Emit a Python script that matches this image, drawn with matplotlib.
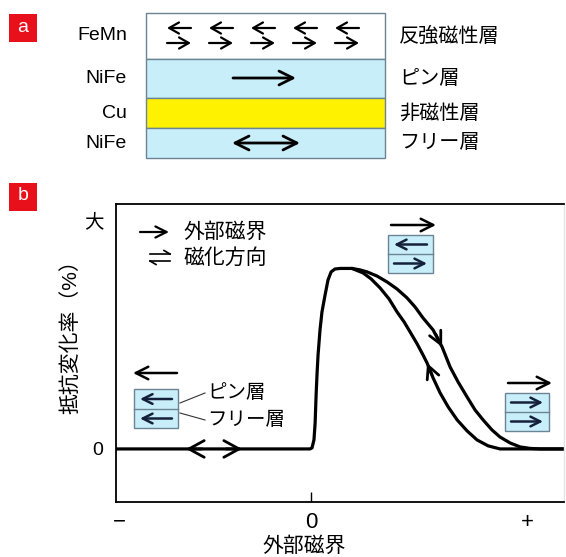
import matplotlib
matplotlib.use("Agg")
import matplotlib.pyplot as plt
from matplotlib.patches import Rectangle

# Latin glyphs from an Arial-like face, kana/kanji fall back to Noto CJK
plt.rcParams['font.family'] = ['Liberation Sans', 'Noto Sans CJK JP', 'DejaVu Sans']

# --- GMR loop (field in arbitrary units, resistance change in % of max) ---
field_rise = [-10.0, -0.05, 0.05, 0.15, 0.21, 0.26, 0.31, 0.36, 0.46, 0.56,
              0.72, 0.87, 1.03, 1.23, 1.49, 2.10]
mr_rise = [0, 0, 0.6, 5.0, 14.4, 29.9, 42.1, 52.1, 65.9, 75.9,
           85.3, 93.6, 98.1, 99.7, 100, 100]

field_down = [2.10, 2.51, 2.87, 3.38, 3.90, 4.41, 4.92, 5.33, 5.74, 6.26,
              6.72, 7.13, 7.54, 8.00, 8.41, 8.82, 9.28, 9.69, 10.21, 10.72,
              11.23, 11.74, 13.2]
mr_down = [100, 99.2, 98.1, 95.8, 92.5, 88.6, 83.7, 78.7, 72.6, 65.9,
           56.5, 45.4, 37.1, 28.8, 21.6, 16.1, 10.5, 6.6, 3.3, 1.1,
           0.3, 0, 0]

field_up = [13.2, 9.69, 9.08, 8.51, 8.00, 7.49, 7.03, 6.62, 6.26, 5.95, 5.74,
            5.44, 5.08, 4.77, 4.41, 4.00, 3.54, 3.08, 2.67, 2.10]
mr_up = [0, 0, 1.7, 5.0, 10.0, 16.1, 23.3, 31.0, 39.3, 47.6, 52.1,
         58.2, 64.8, 70.4, 75.9, 83.1, 89.2, 94.2, 97.5, 100]

x_ticks = [-9.85, 0, 11.1]
x_ticklabels = ['−', '0', '+']
y_ticks = [0, 126.9]
y_ticklabels = ['0', '大']

# --- layer stack of the spin valve ---
layer_names = ['FeMn', 'NiFe', 'Cu', 'NiFe']
layer_roles = ['反強磁性層', 'ピン層', '非磁性層', 'フリー層']
layer_edges = [13, 59, 98, 128, 158]
layer_colors = ['white', '#c8eff9', '#fff200', '#c8eff9']

BLUE = '#c8eff9'
EDGE = '#6b8494'
RED = '#e8101a'
NAVY = '#15203a'

fig = plt.figure(figsize=(5.66, 5.57), dpi=100)

# main axes for panel b
W, H = 566, 557
left, right, top, bottom = 116, 564, 204, 502
ax = fig.add_axes([left / W, 1 - bottom / H, (right - left) / W, (bottom - top) / H])
ax.set_xlim(-10.0, 12.97)
ax.set_ylim(-29.4, 135.7)

curve_kw = dict(color='black', lw=2.3, solid_capstyle='round', solid_joinstyle='round')
ax.plot(field_rise, mr_rise, **curve_kw)
ax.plot(field_down, mr_down, **curve_kw)
ax.plot(field_up, mr_up, **curve_kw)


def head(a, tip, tail, hl=0.9, hw=0.45, lw=2.0, color='black'):
    a.annotate('', xy=tip, xytext=tail,
               arrowprops=dict(arrowstyle=f'->,head_length={hl},head_width={hw}',
                               color=color, lw=lw, shrinkA=0, shrinkB=0))


# direction markers on the loop
head(ax, (6.72, 56.5), (6.40, 63.5))
head(ax, (5.95, 47.6), (6.20, 41.0))
head(ax, (-6.41, 0), (-5.6, 0), hl=1.1, hw=0.6)
head(ax, (-3.54, 0), (-4.35, 0), hl=1.1, hw=0.6)

for s in ['left', 'bottom', 'top']:
    ax.spines[s].set_linewidth(1.3)
ax.spines['right'].set_color('#e4e4e4')
ax.spines['right'].set_linewidth(1.0)

ax.set_xticks(x_ticks)
ax.set_xticklabels(x_ticklabels, fontsize=16)
ax.tick_params(axis='x', direction='in', length=7, width=1.0, pad=7)
for i, t in enumerate(ax.xaxis.get_major_ticks()):
    t.tick1line.set_visible(i == 1)
ax.set_yticks(y_ticks)
ax.set_yticklabels(y_ticklabels, fontsize=14)
ax.tick_params(axis='y', length=0, pad=9)

ax.set_xlabel('外部磁界', fontsize=15, va='center')
ax.xaxis.set_label_coords((304 - left) / (right - left), -(546 - bottom) / (bottom - top))
ax.set_ylabel('抵抗変化率（%）', fontsize=15, va='center')
ax.yaxis.set_label_coords((70 - left) / (right - left), (bottom - 332) / (bottom - top))

# overlay in pixel units for the schematic parts
ov = fig.add_axes([0, 0, 1, 1], zorder=5)
ov.set_xlim(0, W)
ov.set_ylim(H, 0)
ov.axis('off')
ov.patch.set_alpha(0)


def tag(x, y, letter):
    ov.add_patch(Rectangle((x, y), 28, 28, facecolor=RED, edgecolor='none'))
    ov.text(x + 14, y + 13, letter, color='white', fontsize=14, ha='center', va='center')


tag(9, 14, 'a')
tag(9, 183, 'b')

# panel a: layer stack
bx0, bx1 = 146, 385
for i in range(4):
    y0, y1 = layer_edges[i], layer_edges[i + 1]
    ov.add_patch(Rectangle((bx0, y0), bx1 - bx0, y1 - y0, facecolor=layer_colors[i],
                           edgecolor=EDGE, lw=1.0))
    yc = (y0 + y1) / 2
    ov.text(127, yc, layer_names[i], fontsize=14, ha='right', va='center')
    ov.text(399, yc, layer_roles[i], fontsize=14.5, ha='left', va='center')

for k in range(5):
    x0 = 167 + 42 * k
    head(ov, (x0, 28), (x0 + 24, 28), hl=0.7, hw=0.4, lw=1.6)
    head(ov, (x0 + 24, 43), (x0, 43), hl=0.7, hw=0.4, lw=1.6)
head(ov, (296, 78), (233, 78), hl=1.0, hw=0.5, lw=2.0)
ov.annotate('', xy=(300, 143), xytext=(232, 143),
            arrowprops=dict(arrowstyle='<->,head_length=1.0,head_width=0.5',
                            color='black', lw=2.0, shrinkA=0, shrinkB=0))

# panel b: legend
head(ov, (169, 232), (140, 232), hl=0.8, hw=0.4, lw=1.6)
ov.text(183, 232, '外部磁界', fontsize=15, ha='left', va='center')
ov.plot([150, 170], [254, 254], color='black', lw=1.2)
ov.plot([170, 164], [254, 250.5], color='black', lw=1.2)
ov.plot([150, 170], [261, 261], color='black', lw=1.2)
ov.plot([150, 156], [261, 264.5], color='black', lw=1.2)
ov.text(183, 258, '磁化方向', fontsize=15, ha='left', va='center')


def stack(x0, x1, y0, ymid, y1, field_dir, dirs, arrow_y):
    ov.add_patch(Rectangle((x0, y0), x1 - x0, y1 - y0, facecolor=BLUE, edgecolor=EDGE, lw=1.0))
    ov.plot([x0, x1], [ymid, ymid], color=EDGE, lw=1.0)
    a0, a1 = x0 + 6, x1 - 6
    for d, yy in zip(dirs, [(y0 + ymid) / 2, (ymid + y1) / 2]):
        if d > 0:
            head(ov, (a1, yy), (a0, yy), hl=0.7, hw=0.35, lw=1.8, color=NAVY)
        else:
            head(ov, (a0, yy), (a1, yy), hl=0.7, hw=0.35, lw=1.8, color=NAVY)
    f0, f1 = x0 - 1, x1 + 3
    if field_dir > 0:
        head(ov, (f1, arrow_y), (f0 + 4, arrow_y), hl=0.9, hw=0.45, lw=1.8)
    else:
        head(ov, (f0, arrow_y), (f1 - 4, arrow_y), hl=0.9, hw=0.45, lw=1.8)


stack(134, 178, 389, 409, 428, -1, [-1, -1], 373)
stack(388, 433, 235, 254, 273, 1, [-1, 1], 225)
stack(505, 549, 393, 412, 431, 1, [1, 1], 383)

ov.plot([180, 205], [403, 393], color='#333333', lw=0.8)
ov.plot([180, 205], [413, 420], color='#333333', lw=0.8)
ov.text(207, 393, 'ピン層', fontsize=14, ha='left', va='center')
ov.text(207, 420, 'フリー層', fontsize=14, ha='left', va='center')

fig.savefig('out.png', dpi=100)
